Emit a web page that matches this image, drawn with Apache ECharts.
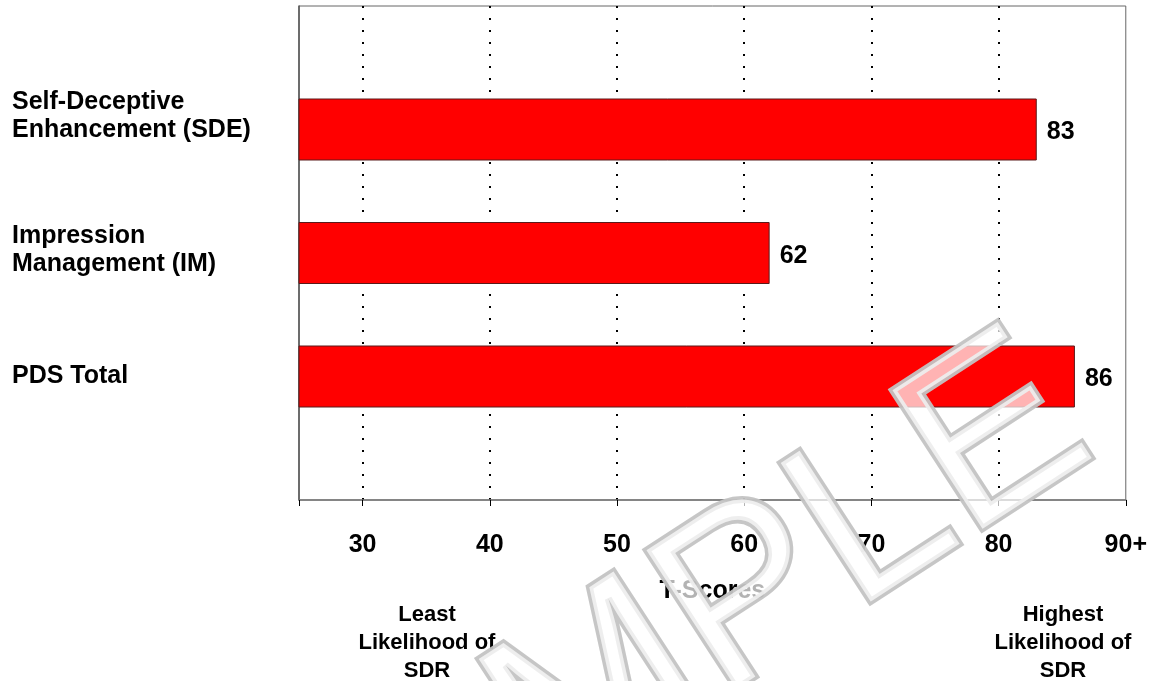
<!DOCTYPE html>
<html>
<head>
<meta charset="utf-8">
<script src="https://cdn.jsdelivr.net/npm/echarts@6/dist/echarts.min.js"></script>
<style>
html,body{margin:0;padding:0;background:#fff;}
#chart{width:1150px;height:681px;}
</style>
</head>
<body>
<div id="chart"></div>
<script>
// ---- data ----
var categories = ['', 'Self-Deceptive\nEnhancement (SDE)', 'Impression\nManagement (IM)', 'PDS Total', ''];
var scores = [null, 83, 62, 86, null];
var xMin = 25;
var xMax = 90;
var topTickLabel = '90+';
var axisTitle = 'T-Scores';
var lowNote = 'Least\nLikelihood of\nSDR';
var highNote = 'Highest\nLikelihood of\nSDR';
var watermark = 'SAMPLE';

var FONT = 'Liberation Sans, Arial, sans-serif';
var chart = echarts.init(document.getElementById('chart'), null, {renderer: 'canvas'});

// label vertical nudges (style only): extra blank space under the label
var labelGap = {1: 'g26', 2: 'g6'};

var option = {
  animation: false,
  backgroundColor: '#ffffff',
  grid: {
    left: 299, right: 23, top: 6, bottom: 181,
    show: true, borderColor: '#666666', borderWidth: 1, backgroundColor: 'transparent'
  },
  xAxis: {
    type: 'value',
    min: xMin,
    max: xMax,
    name: axisTitle,
    nameLocation: 'middle',
    nameGap: 79,
    nameTextStyle: {fontFamily: FONT, fontSize: 25, fontWeight: 'bold', color: '#000'},
    axisLine: {show: true, lineStyle: {color: '#777777', width: 1.5}},
    axisTick: {show: true, length: 6, lineStyle: {color: '#000', width: 1}},
    axisLabel: {
      margin: 33,
      fontFamily: FONT, fontSize: 25, fontWeight: 'bold', color: '#000',
      formatter: function (v) {
        if (v === xMin) return '';
        if (v === xMax) return topTickLabel;
        return String(v);
      }
    },
    splitLine: {
      show: true, showMinLine: false, showMaxLine: false,
      lineStyle: {color: '#000', width: 2, type: [2, 10]}
    }
  },
  yAxis: {
    type: 'category',
    data: categories,
    inverse: true,
    boundaryGap: false,
    axisLine: {show: true, lineStyle: {color: '#555555', width: 1.5}},
    axisTick: {show: false},
    splitLine: {show: false},
    axisLabel: {
      align: 'left',
      margin: 287,
      interval: 0,
      formatter: function (v, i) {
        if (!v) return '';
        var lines = v.split('\n');
        var out = [];
        for (var k = 0; k < lines.length; k++) {
          out.push('{a|' + lines[k] + '}');
        }
        if (labelGap[i]) out.push('{' + labelGap[i] + '| }');
        return out.join('\n');
      },
      rich: {
        a: {fontFamily: FONT, fontSize: 25, fontWeight: 'bold', color: '#000', lineHeight: 28},
        g26: {fontSize: 2, lineHeight: 26},
        g6: {fontSize: 2, lineHeight: 6}
      }
    }
  },
  series: [{
    type: 'bar',
    data: scores,
    barWidth: 62,
    itemStyle: {color: '#ff0000', borderColor: '#5a1a1a', borderWidth: 1},
    label: {
      show: true, position: 'right', distance: 10, offset: [0, 3],
      fontFamily: FONT, fontSize: 25, fontWeight: 'bold', color: '#000'
    },
    z: 3
  }],
  graphic: [
    {
      type: 'text', x: 427, y: 643, z: 10,
      style: {text: lowNote, align: 'center', verticalAlign: 'middle',
        fontFamily: FONT, fontSize: 22, fontWeight: 'bold', lineHeight: 28, fill: '#000'}
    },
    {
      type: 'text', x: 1063, y: 643, z: 10,
      style: {text: highNote, align: 'center', verticalAlign: 'middle',
        fontFamily: FONT, fontSize: 22, fontWeight: 'bold', lineHeight: 28, fill: '#000'}
    },
    {
      type: 'text', x: 656, y: 662, z: 100,
      rotation: 33 * Math.PI / 180,
      style: {text: watermark, align: 'center', verticalAlign: 'middle',
        fontFamily: FONT, fontSize: 240, fontWeight: 'normal',
        fill: 'rgba(255,255,255,0.7)', stroke: 'rgba(195,195,195,0.95)', lineWidth: 7}
    }
  ]
};
chart.setOption(option);
</script>
</body>
</html>
